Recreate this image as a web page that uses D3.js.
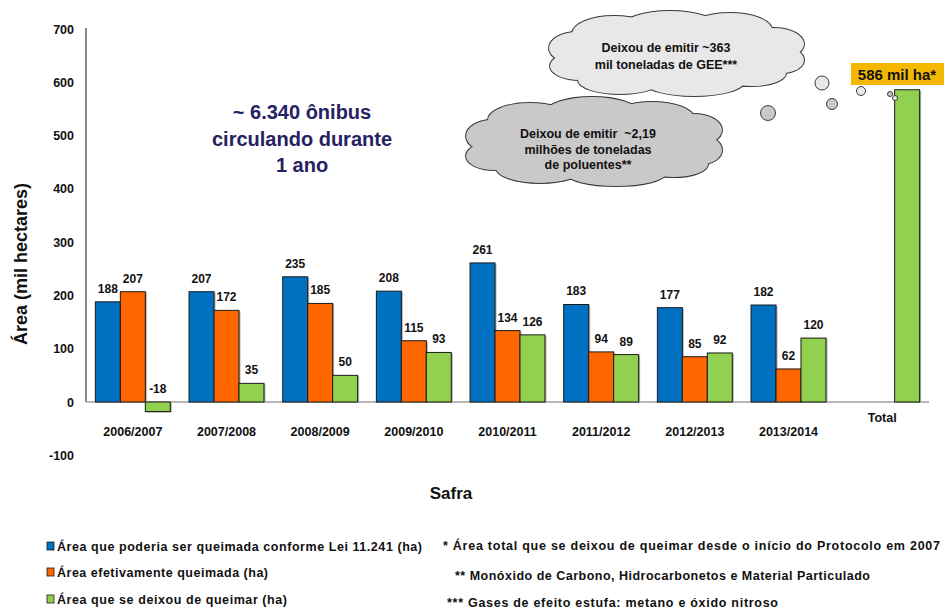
<!DOCTYPE html>
<html>
<head>
<meta charset="utf-8">
<script src="https://cdn.jsdelivr.net/npm/d3@7"></script>
<style>
  body { margin: 0; background: #fff; }
  text { font-family: "Liberation Sans", Arial, sans-serif; font-weight: bold; }
</style>
</head>
<body>
<script>
// data (mil hectares)
var safras = ["2006/2007", "2007/2008", "2008/2009", "2009/2010", "2010/2011",
    "2011/2012", "2012/2013", "2013/2014", "Total"];
var podeQueimar = [188, 207, 235, 208, 261, 183, 177, 182, null];
var queimada = [207, 172, 185, 115, 134, 94, 85, 62, null];
var deixouQueimar = [-18, 35, 50, 93, 126, 89, 92, 120, 586];
var yTicks = [-100, 0, 100, 200, 300, 400, 500, 600, 700];

var seriesNames = ["Área que poderia ser queimada conforme  Lei 11.241 (ha)",
    "Área efetivamente  queimada (ha)",
    "Área que se deixou de queimar (ha)"];
var colors = ["#0070C0", "#FF6600", "#92D050"];
var notes = ["* Área total que se deixou de queimar desde o início do Protocolo em 2007",
    "** Monóxido de Carbono, Hidrocarbonetos  e Material Particulado",
    "*** Gases de efeito estufa:  metano e óxido nitroso"];

var width = 944, height = 610;
var svg = d3.select("body").append("svg")
    .attr("width", width)
    .attr("height", height);

var y = d3.scaleLinear().domain([0, 700]).range([402, 29]);
var x0 = d3.scaleBand().domain(safras).range([86, 929])
    .paddingInner(0.2).paddingOuter(0.1);
var x1 = d3.scaleBand().domain([0, 1, 2]).range([0, x0.bandwidth()]);

// y tick labels
svg.selectAll("text.ytick")
    .data(yTicks)
    .enter()
    .append("text")
    .attr("class", "ytick")
    .attr("x", 74)
    .attr("y", function(d) { return y(d) + 4.5; })
    .attr("text-anchor", "end")
    .attr("font-size", 12.5)
    .attr("fill", "#111")
    .text(function(d) { return d; });

// axis lines
svg.append("line")
    .attr("x1", 86).attr("x2", 86)
    .attr("y1", y(700) - 1).attr("y2", y(0))
    .attr("stroke", "#8c8c8c").attr("stroke-width", 2);
svg.append("line")
    .attr("x1", 86).attr("x2", 929)
    .attr("y1", y(0)).attr("y2", y(0))
    .attr("stroke", "#a0a0a0").attr("stroke-width", 1.5);

// bars
var series = [podeQueimar, queimada, deixouQueimar];
var barData = [];
safras.forEach(function(s, i) {
    series.forEach(function(arr, j) {
        if (arr[i] !== null) barData.push({ cat: s, k: j, v: arr[i], i: i });
    });
});

var bars = svg.append("g");
// soft shadow
bars.selectAll("rect.shadow")
    .data(barData)
    .enter()
    .append("rect")
    .attr("x", function(d) { return x0(d.cat) + x1(d.k) + 1.5; })
    .attr("y", function(d) { return Math.min(y(d.v), y(0)) + 1; })
    .attr("width", x1.bandwidth())
    .attr("height", function(d) { return Math.abs(y(d.v) - y(0)); })
    .attr("fill", "#b0b0b0");
bars.selectAll("rect.bar")
    .data(barData)
    .enter()
    .append("rect")
    .attr("class", "bar")
    .attr("x", function(d) { return x0(d.cat) + x1(d.k); })
    .attr("y", function(d) { return Math.min(y(d.v), y(0)); })
    .attr("width", x1.bandwidth())
    .attr("height", function(d) { return Math.abs(y(d.v) - y(0)); })
    .attr("fill", function(d) { return colors[d.k]; })
    .attr("stroke", "#1a1a1a")
    .attr("stroke-width", 1);

// value labels (not for total)
svg.selectAll("text.val")
    .data(barData.filter(function(d) { return d.cat !== "Total"; }))
    .enter()
    .append("text")
    .attr("class", "val")
    .attr("x", function(d) { return x0(d.cat) + x1(d.k) + x1.bandwidth() / 2; })
    .attr("y", function(d) { return y(Math.max(d.v, 0)) - 9; })
    .attr("text-anchor", "middle")
    .attr("font-size", 12)
    .attr("fill", "#111")
    .text(function(d) { return d.v; });

// category labels
svg.selectAll("text.cat")
    .data(safras)
    .enter()
    .append("text")
    .attr("class", "cat")
    .attr("x", function(d) { return x0(d) + x0.bandwidth() / 2; })
    .attr("y", function(d) { return d === "Total" ? 422 : 436; })
    .attr("text-anchor", "middle")
    .attr("font-size", 12.5)
    .attr("fill", "#111")
    .text(function(d) { return d; });

// axis titles
svg.append("text")
    .attr("x", 451).attr("y", 499)
    .attr("text-anchor", "middle")
    .attr("font-size", 17)
    .attr("fill", "#111")
    .text("Safra");
svg.append("text")
    .attr("transform", "translate(27,264) rotate(-90)")
    .attr("text-anchor", "middle")
    .attr("font-size", 18)
    .attr("fill", "#111")
    .text("Área (mil hectares)");

// bus annotation
svg.append("text")
    .attr("text-anchor", "middle")
    .attr("font-size", 20)
    .attr("fill", "#262262")
    .selectAll("tspan")
    .data(["~ 6.340 ônibus", "circulando durante", "1 ano"])
    .enter()
    .append("tspan")
    .attr("x", 302)
    .attr("y", function(d, i) { return 119 + i * 26.5; })
    .text(function(d) { return d; });

// clouds
function cloud(lobes, fill) {
    var g = svg.append("g");
    g.selectAll("ellipse.o").data(lobes).enter().append("ellipse")
        .attr("cx", function(d) { return d[0]; })
        .attr("cy", function(d) { return d[1]; })
        .attr("rx", function(d) { return d[2]; })
        .attr("ry", function(d) { return d[3]; })
        .attr("fill", fill).attr("stroke", "#3a3a3a").attr("stroke-width", 2);
    g.selectAll("ellipse.i").data(lobes).enter().append("ellipse")
        .attr("cx", function(d) { return d[0]; })
        .attr("cy", function(d) { return d[1]; })
        .attr("rx", function(d) { return d[2]; })
        .attr("ry", function(d) { return d[3]; })
        .attr("fill", fill);
    return g;
}
cloud([
    [676, 55, 105, 30],
    [614, 34, 42, 18], [670, 27, 48, 16], [730, 30, 42, 17],
    [577, 48, 28, 16], [580, 66, 30, 14],
    [774, 44, 30, 16], [782, 60, 22, 13],
    [620, 80, 42, 14], [694, 82, 50, 14], [752, 73, 34, 13]
], "#e8e8e8");
cloud([
    [592, 142, 108, 30],
    [530, 120, 42, 17], [592, 112, 46, 15], [652, 118, 42, 16],
    [492, 136, 26, 16], [494, 156, 28, 14],
    [694, 130, 28, 16], [702, 150, 20, 14],
    [540, 168, 44, 15], [616, 173, 50, 13], [674, 164, 34, 13]
], "#c9c9c9");

function cloudText(lines, cx, y0, dy) {
    svg.append("text")
        .attr("text-anchor", "middle")
        .attr("font-size", 12.5)
        .attr("fill", "#111")
        .style("white-space", "pre")
        .selectAll("tspan")
        .data(lines)
        .enter()
        .append("tspan")
        .attr("x", cx)
        .attr("y", function(d, i) { return y0 + i * dy; })
        .text(function(d) { return d; });
}
cloudText(["Deixou de emitir ~363", "mil toneladas de GEE***"], 666, 52, 16.5);
cloudText(["Deixou de emitir  ~2,19", "milhões de toneladas", "de poluentes**"], 588, 138, 15.5);

// thought bubbles
var bubbles = [[768, 113, 7.5, "#c9c9c9"], [822, 83, 7, "#e8e8e8"], [832, 104, 5.5, "#c9c9c9"],
    [861, 91, 4.5, "#e8e8e8"], [890, 94, 2.5, "#c9c9c9"], [895, 98, 2.5, "#e8e8e8"]];
svg.selectAll("circle.bub").data(bubbles).enter().append("circle")
    .attr("cx", function(d) { return d[0]; })
    .attr("cy", function(d) { return d[1]; })
    .attr("r", function(d) { return d[2]; })
    .attr("fill", function(d) { return d[3]; })
    .attr("stroke", "#3a3a3a").attr("stroke-width", 1);

// total label box
var totalVal = deixouQueimar[8];
svg.append("rect")
    .attr("x", 851).attr("y", 63).attr("width", 95).attr("height", 22)
    .attr("fill", "#F5B800");
svg.append("text")
    .attr("x", 897).attr("y", 80)
    .attr("text-anchor", "middle")
    .attr("font-size", 15)
    .attr("fill", "#111")
    .text(totalVal + " mil ha*");

// legend
var legWidths = [365, 211, 230];
var leg = svg.selectAll("g.leg").data(seriesNames).enter().append("g")
    .attr("transform", function(d, i) { return "translate(0," + [546, 572, 599][i] + ")"; });
leg.append("rect")
    .attr("x", 47).attr("y", -4).attr("width", 7).attr("height", 8)
    .attr("fill", function(d, i) { return colors[i]; })
    .attr("stroke", "#1a1a1a").attr("stroke-width", 0.8);
leg.append("text")
    .attr("x", 57).attr("y", 4.5)
    .attr("font-size", 12.5)
    .attr("fill", "#111")
    .attr("textLength", function(d, i) { return legWidths[i]; })
    .attr("lengthAdjust", "spacing")
    .text(function(d) { return d; });

var noteWidths = [497, 415, 331];
svg.selectAll("text.note").data(notes).enter().append("text")
    .attr("class", "note")
    .attr("x", function(d, i) { return [443, 455, 447][i]; })
    .attr("y", function(d, i) { return [549.5, 580, 607][i]; })
    .attr("font-size", 12.5)
    .attr("fill", "#111")
    .attr("textLength", function(d, i) { return noteWidths[i]; })
    .attr("lengthAdjust", "spacing")
    .text(function(d) { return d; });
</script>
</body>
</html>
